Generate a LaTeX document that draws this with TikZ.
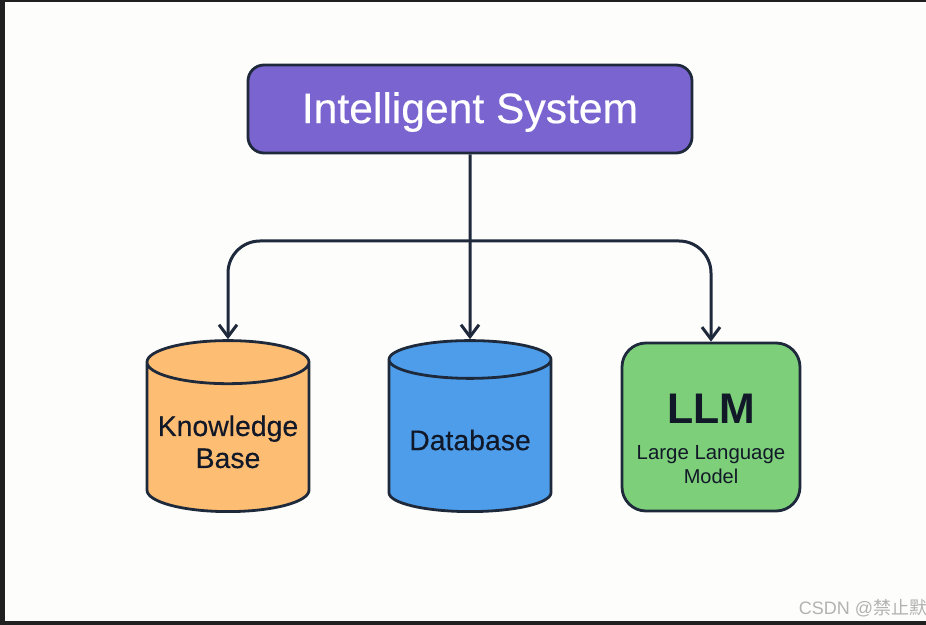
\documentclass[tikz,border=0pt]{standalone}
\usepackage{fontspec}
\setmainfont{Liberation Sans}
\newfontfamily\cjk{Noto Sans CJK SC}
\usepackage{xcolor}
\usepackage{tikz}
\usetikzlibrary{shapes.geometric}
\usetikzlibrary{arrows.meta}
\usetikzlibrary{positioning}
\definecolor{edge}{HTML}{1E2A3B}
\definecolor{ink}{HTML}{111827}
\definecolor{sysfill}{HTML}{7A64CF}
\definecolor{kbfill}{HTML}{FDBE73}
\definecolor{dbfill}{HTML}{4D9DEA}
\definecolor{llmfill}{HTML}{7DCF7A}
\definecolor{paper}{HTML}{FDFDFC}
\definecolor{frame}{HTML}{202020}

\begin{document}
\begin{tikzpicture} [x=0.5pt, y=-0.5pt,
                store/.style = {cylinder, shape border rotate=90, aspect=0.28, anchor=south, draw=edge, line width=1.4pt, minimum width=81pt, minimum height=85.5pt, text=ink, align=center, font=\fontsize{14.2}{16}\selectfont\addfontfeature{FakeBold=0.3}},
                box/.style = {rectangle, draw=edge, line width=1.4pt, align=center},
                link/.style = {draw=edge, line width=1.5pt, -{Straight Barb[length=6pt,width=9pt]}}
            ]
            \fill[paper] (0,0) rectangle (926,625);
            \fill[frame] (0,0) rectangle (926,2);
            \fill[frame] (0,0) rectangle (5,625);
            \fill[frame] (0,621) rectangle (926,625);
            \useasboundingbox (0,0) rectangle (926,625);
            \node (sys) at (470,109) [box, fill=sysfill, rounded corners=8pt, minimum width=222pt, minimum height=44pt, text=white, font=\fontsize{21.3}{25}\selectfont\addfontfeature{FakeBold=0.4}] {\rule{0pt}{18.5pt}Intelligent System};
            \node (kb) at (228,513) [store, fill=kbfill] {Knowledge\\Base};
            \node (db) at (470,513) [store, fill=dbfill] {Database};
            \node (llm) at (711,427) [box, fill=llmfill, rounded corners=12pt, minimum width=89pt, minimum height=84pt, text=ink] {{\bfseries\fontsize{21.4}{24}\selectfont\rule{0pt}{27pt}LLM}\\[6pt]\fontsize{10.2}{12}\selectfont Large Language\\Model};
            \coordinate (fork) at (470,241);
            \draw [link] (sys.south) -- (db.north);
            \draw [link, rounded corners=16pt] (fork) -| (kb.north);
            \draw [link, rounded corners=16pt] (fork) -| (llm.north);
            \node (mark) at (863,608) [text=black!30, font=\fontsize{9}{10}\selectfont] {CSDN @{\cjk 禁止默}};
        \end{tikzpicture}
\end{document}
